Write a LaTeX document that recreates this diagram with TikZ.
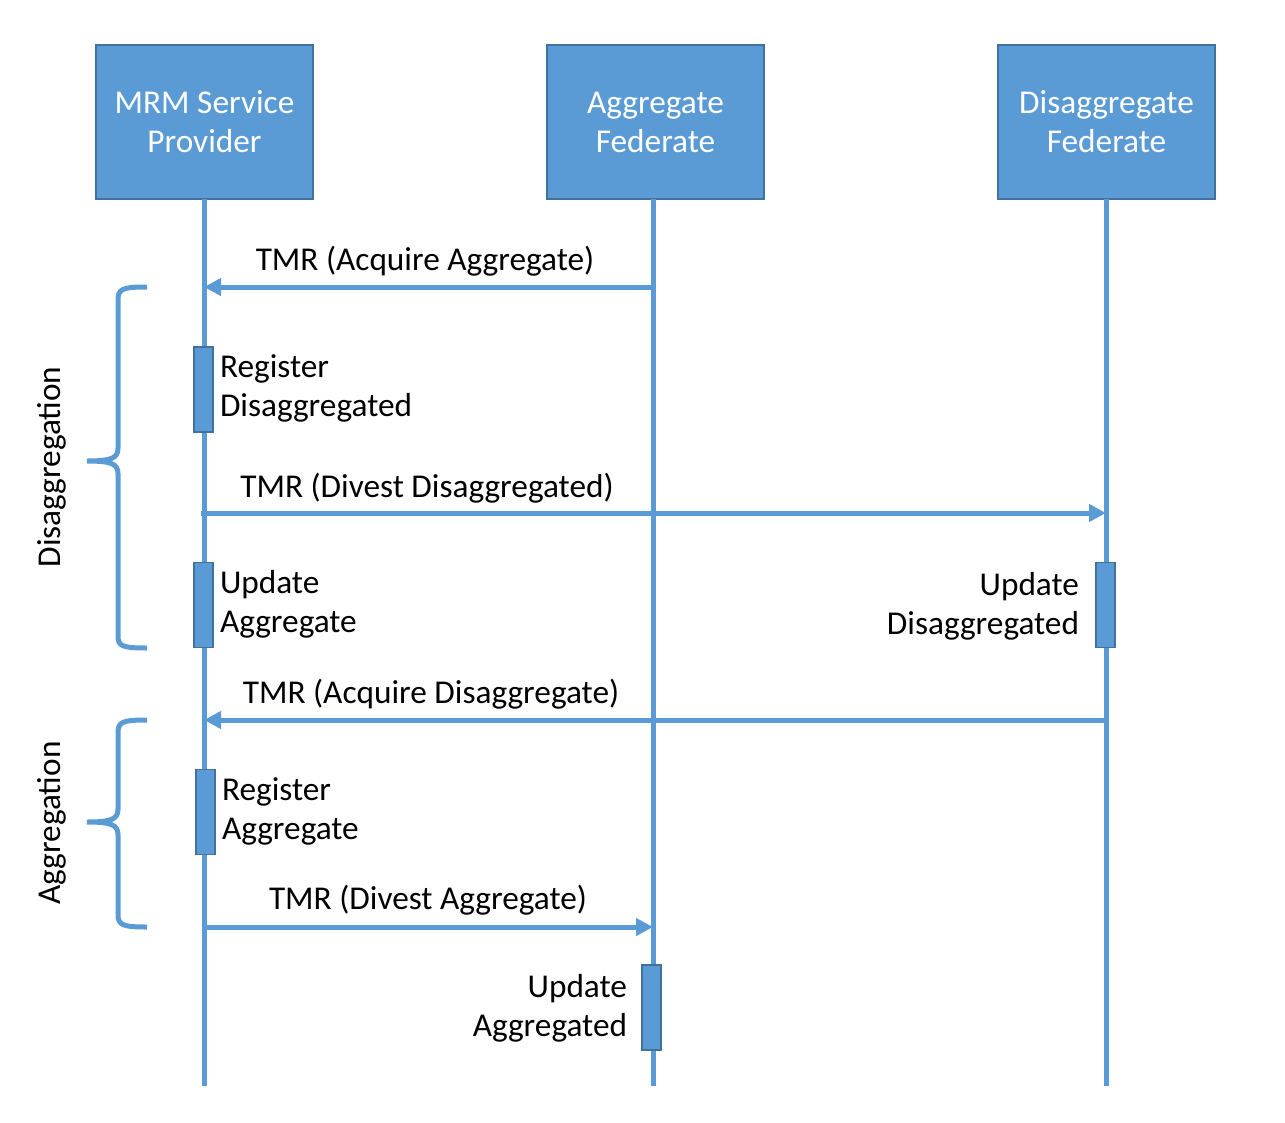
\documentclass[tikz,border=0pt]{standalone}
\usepackage{fontspec}
\setmainfont{Carlito}
\usetikzlibrary{arrows.meta}
\definecolor{lblue}{HTML}{5B9BD5}
\definecolor{dblue}{HTML}{41719C}
\begin{document}
\begin{tikzpicture}[x=1pt,y=-1pt,
  every node/.style={inner sep=0pt,outer sep=0pt},
  actor/.style={draw=dblue,line width=1.5pt,fill=lblue,minimum width=217pt,minimum height=154pt,text=white,align=center,font=\fontsize{33.3}{39}\selectfont},
  life/.style={draw=lblue,line width=5pt},
  msg/.style={draw=lblue,line width=5pt,-{Triangle[length=17pt,width=17pt]}},
  bar/.style={draw=dblue,line width=1.5pt,fill=lblue,minimum width=19pt,minimum height=85pt},
  lbl/.style={font=\fontsize{33.3}{39}\selectfont,text=black},
  brace/.style={draw=lblue,line width=5pt}]
\useasboundingbox (0,0) rectangle (1285,1122);
% actors
\node[actor] (mrm) at (204.5,122) {MRM Service\\Provider};
\node[actor] (agg) at (655.5,122) {Aggregate\\Federate};
\node[actor] (dis) at (1106.5,122) {Disaggregate\\Federate};
% lifeline ends
\coordinate (mrmE) at (204,1086);
\coordinate (aggE) at (653,1086);
\coordinate (disE) at (1106,1086);
\draw[life] (mrm.south -| mrmE) -- (mrmE);
\draw[life] (agg.south -| aggE) -- (aggE);
\draw[life] (dis.south -| disE) -- (disE);
% message points
\coordinate (m1s) at (653,287); \coordinate (m1e) at (204,287);
\coordinate (m2s) at (201,513); \coordinate (m2e) at (1106,513);
\coordinate (m3s) at (1106,720); \coordinate (m3e) at (204,720);
\coordinate (m4s) at (204,927); \coordinate (m4e) at (653,927);
% activation bars
\node[bar] (b1) at (203.5,389.5) {};
\node[bar] (b2) at (203.5,605) {};
\node[bar] (b3) at (1105.5,605) {};
\node[bar] (b4) at (205.5,812) {};
\node[bar] (b5) at (651.5,1007.5) {};
% messages
\draw[msg] (m1s) -- (m1e);
\draw[msg] (m2s) -- (m2e);
\draw[msg] (m3s) -- (m3e);
\draw[msg] (m4s) -- (m4e);
% message labels
\node[lbl] (t1) at (425,261) {TMR (Acquire Aggregate)};
\node[lbl] (t2) at (427,488) {TMR (Divest Disaggregated)};
\node[lbl] (t3) at (431,694) {TMR (Acquire Disaggregate)};
\node[lbl] (t4) at (428,900) {TMR (Divest Aggregate)};
% bar labels
\node[lbl,anchor=west,align=left] (l1) at (220,388) {Register\\Disaggregated};
\node[lbl,anchor=west,align=left] (l2) at (220,604) {Update\\Aggregate};
\node[lbl,anchor=east,align=right] (l3) at (1079,606) {Update\\Disaggregated};
\node[lbl,anchor=west,align=left] (l4) at (222,811) {Register\\Aggregate};
\node[lbl,anchor=east,align=right] (l5) at (627,1008) {Update\\Aggregated};
% braces
\draw[brace] (147,287) .. controls (122,287) and (118,289) .. (118,300) -- (118,448)
  .. controls (118,458) and (112,461) .. (87,461)
  .. controls (112,461) and (118,464) .. (118,474) -- (118,636)
  .. controls (118,646) and (122,648) .. (147,648);
\draw[brace] (147,720) .. controls (122,720) and (118,722) .. (118,733) -- (118,809)
  .. controls (118,819) and (112,822) .. (87,822)
  .. controls (112,822) and (118,825) .. (118,835) -- (118,914)
  .. controls (118,925) and (122,927) .. (147,927);
\node[lbl,rotate=90] (g1) at (52,467) {Disaggregation};
\node[lbl,rotate=90] (g2) at (52,823) {Aggregation};
\end{tikzpicture}
\end{document}
